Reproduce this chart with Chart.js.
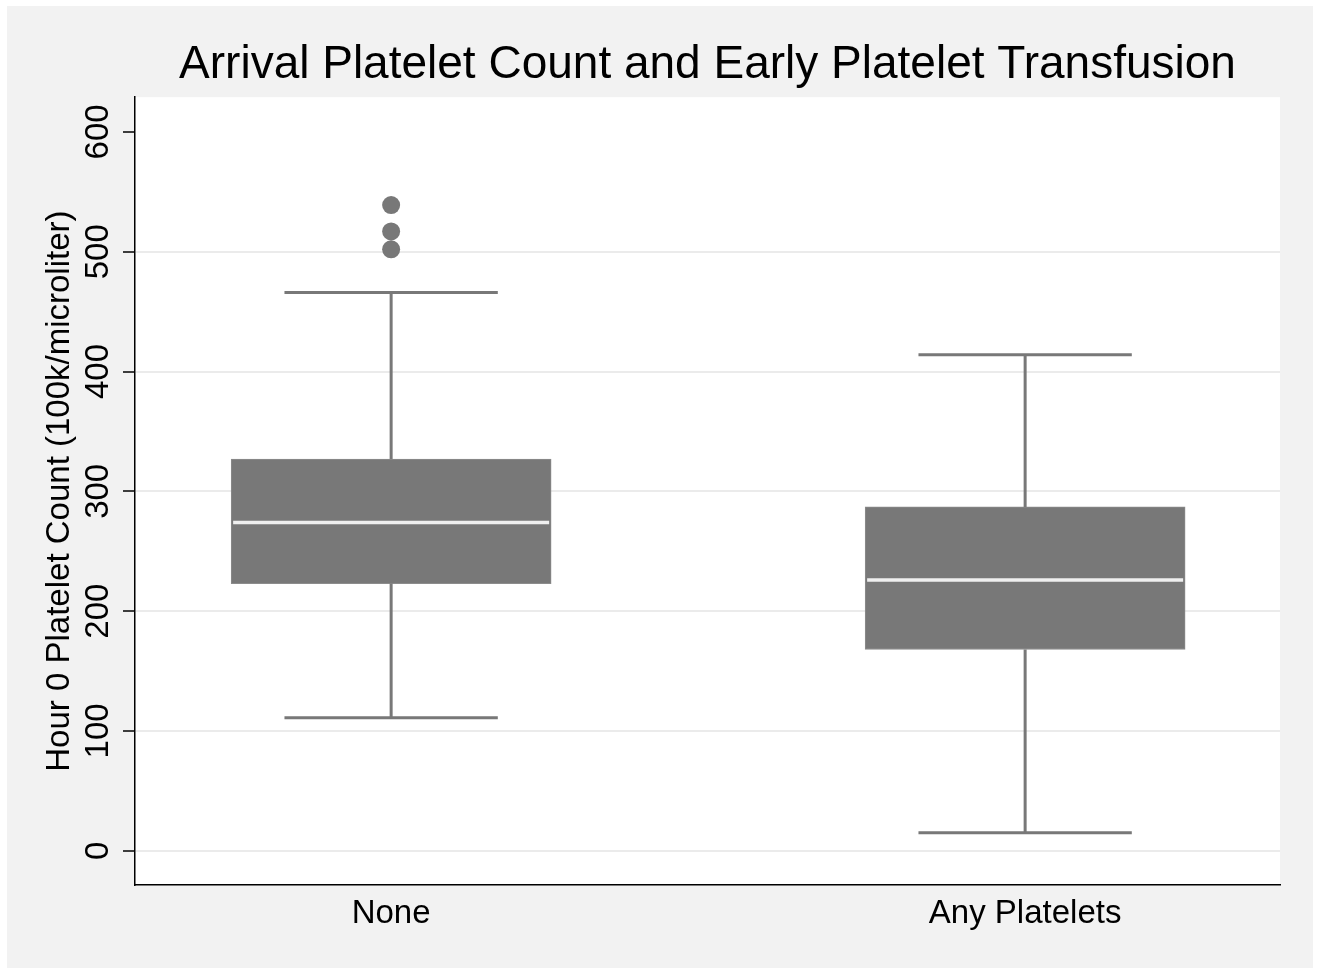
<!DOCTYPE html>
<html>
<head>
<meta charset="utf-8">
<script src="https://cdn.jsdelivr.net/npm/chart.js@4/dist/chart.umd.min.js"></script>
<style>
  html, body { margin: 0; padding: 0; background: #fff; }
  #frame { position: absolute; left: 7px; top: 6px; width: 1306px; height: 962px; background: #f2f2f2; }
  #wrap { position: absolute; left: 0; top: 0; width: 1322px; height: 969px; }
</style>
</head>
<body>
<div id="frame"></div>
<div id="wrap"><canvas id="boxChart"></canvas></div>
<script>
// values
const categories = ["None", "Any Platelets"];
const q1 = [223, 168];
const median = [274, 226];
const q3 = [327, 287];
const whiskerLow = [111, 15];
const whiskerHigh = [466, 414];
const outliers = [[502, 517, 539], []];
const yTicks = [0, 100, 200, 300, 400, 500, 600];

const boxColor = "#787878";
const fontFamily = "'Liberation Sans', Arial, Helvetica, sans-serif";

// white plot region
const plotBackground = {
  id: "plotBackground",
  beforeDraw(chart) {
    const a = chart.chartArea;
    chart.ctx.save();
    chart.ctx.fillStyle = "#ffffff";
    chart.ctx.fillRect(a.left, a.top, a.right - a.left, a.bottom - a.top);
    chart.ctx.restore();
  }
};

// whiskers, caps and median lines, placed through the chart scales
const boxExtras = {
  id: "boxExtras",
  afterDatasetsDraw(chart) {
    const ctx = chart.ctx;
    const xs = chart.scales.x, ys = chart.scales.y;
    const meta = chart.getDatasetMeta(0);
    ctx.save();
    categories.forEach((c, i) => {
      const bar = meta.data[i];
      const cx = xs.getPixelForValue(i + 1);
      const half = bar.width / 2;
      const capHalf = half * 2 / 3;
      ctx.strokeStyle = boxColor;
      ctx.lineWidth = 3;
      ctx.beginPath();
      ctx.moveTo(cx, ys.getPixelForValue(q3[i]));
      ctx.lineTo(cx, ys.getPixelForValue(whiskerHigh[i]));
      ctx.moveTo(cx, ys.getPixelForValue(q1[i]));
      ctx.lineTo(cx, ys.getPixelForValue(whiskerLow[i]));
      ctx.moveTo(cx - capHalf, ys.getPixelForValue(whiskerHigh[i]));
      ctx.lineTo(cx + capHalf, ys.getPixelForValue(whiskerHigh[i]));
      ctx.moveTo(cx - capHalf, ys.getPixelForValue(whiskerLow[i]));
      ctx.lineTo(cx + capHalf, ys.getPixelForValue(whiskerLow[i]));
      ctx.stroke();
      ctx.strokeStyle = "#efefef";
      ctx.lineWidth = 3.5;
      ctx.beginPath();
      ctx.moveTo(cx - half + 2, ys.getPixelForValue(median[i]));
      ctx.lineTo(cx + half - 2, ys.getPixelForValue(median[i]));
      ctx.stroke();
    });
    ctx.restore();
  }
};

const outlierPoints = [];
outliers.forEach((list, i) => list.forEach(v => outlierPoints.push({ x: i + 1, y: v })));

new Chart(document.getElementById("boxChart"), {
  type: "bar",
  data: {
    datasets: [{
      label: "IQR",
      data: categories.map((c, i) => ({ x: i + 1, y: [q1[i], q3[i]] })),
      backgroundColor: boxColor,
      borderColor: "#8c8c8c",
      borderWidth: 1,
      borderSkipped: false,
      barThickness: 320
    }, {
      type: "scatter",
      label: "Outliers",
      data: outlierPoints,
      backgroundColor: boxColor,
      borderWidth: 0,
      pointRadius: 9
    }]
  },
  options: {
    responsive: true,
    maintainAspectRatio: false,
    animation: false,
    devicePixelRatio: 1,
    layout: { padding: { left: 0, right: 42, top: 0, bottom: 0 } },
    plugins: {
      legend: { display: false },
      tooltip: { enabled: false },
      title: {
        display: true,
        fullSize: false,
        text: "Arrival Platelet Count and Early Platelet Transfusion",
        color: "#000",
        font: { family: fontFamily, size: 46, weight: "normal", lineHeight: 1.2 },
        padding: { top: 38, bottom: 4 }
      }
    },
    scales: {
      x: {
        type: "linear",
        offset: false,
        min: 0.596,
        max: 2.402,
        afterBuildTicks(scale) { scale.ticks = categories.map((c, i) => ({ value: i + 1 })); },
        afterFit(scale) { scale.height = 84; },
        ticks: {
          callback: v => categories[v - 1],
          color: "#000",
          font: { family: fontFamily, size: 33 },
          padding: 9,
          maxRotation: 0,
          minRotation: 0
        },
        grid: { display: false, drawTicks: false },
        border: { display: true, color: "#000", width: 1.5 }
      },
      y: {
        min: -28.6,
        max: 629,
        afterBuildTicks(scale) { scale.ticks = yTicks.map(v => ({ value: v })); },
        afterFit(scale) { scale.width = 135; },
        ticks: {
          color: "#000",
          font: { family: fontFamily, size: 33 },
          minRotation: 90,
          maxRotation: 90,
          crossAlign: "center",
          padding: -3
        },
        grid: {
          color: ctx => (ctx.tick && ctx.tick.value === 600) ? "rgba(0,0,0,0)" : "#ebebeb",
          lineWidth: 2,
          tickColor: "#000",
          tickWidth: 1.5,
          tickLength: 12
        },
        border: { display: true, color: "#000", width: 1.5 },
        title: {
          display: true,
          text: "Hour 0 Platelet Count (100k/microliter)",
          color: "#000",
          font: { family: fontFamily, size: 33, lineHeight: 1.2 },
          padding: { top: 40, bottom: 0 }
        }
      }
    }
  },
  plugins: [plotBackground, boxExtras]
});
</script>
</body>
</html>
